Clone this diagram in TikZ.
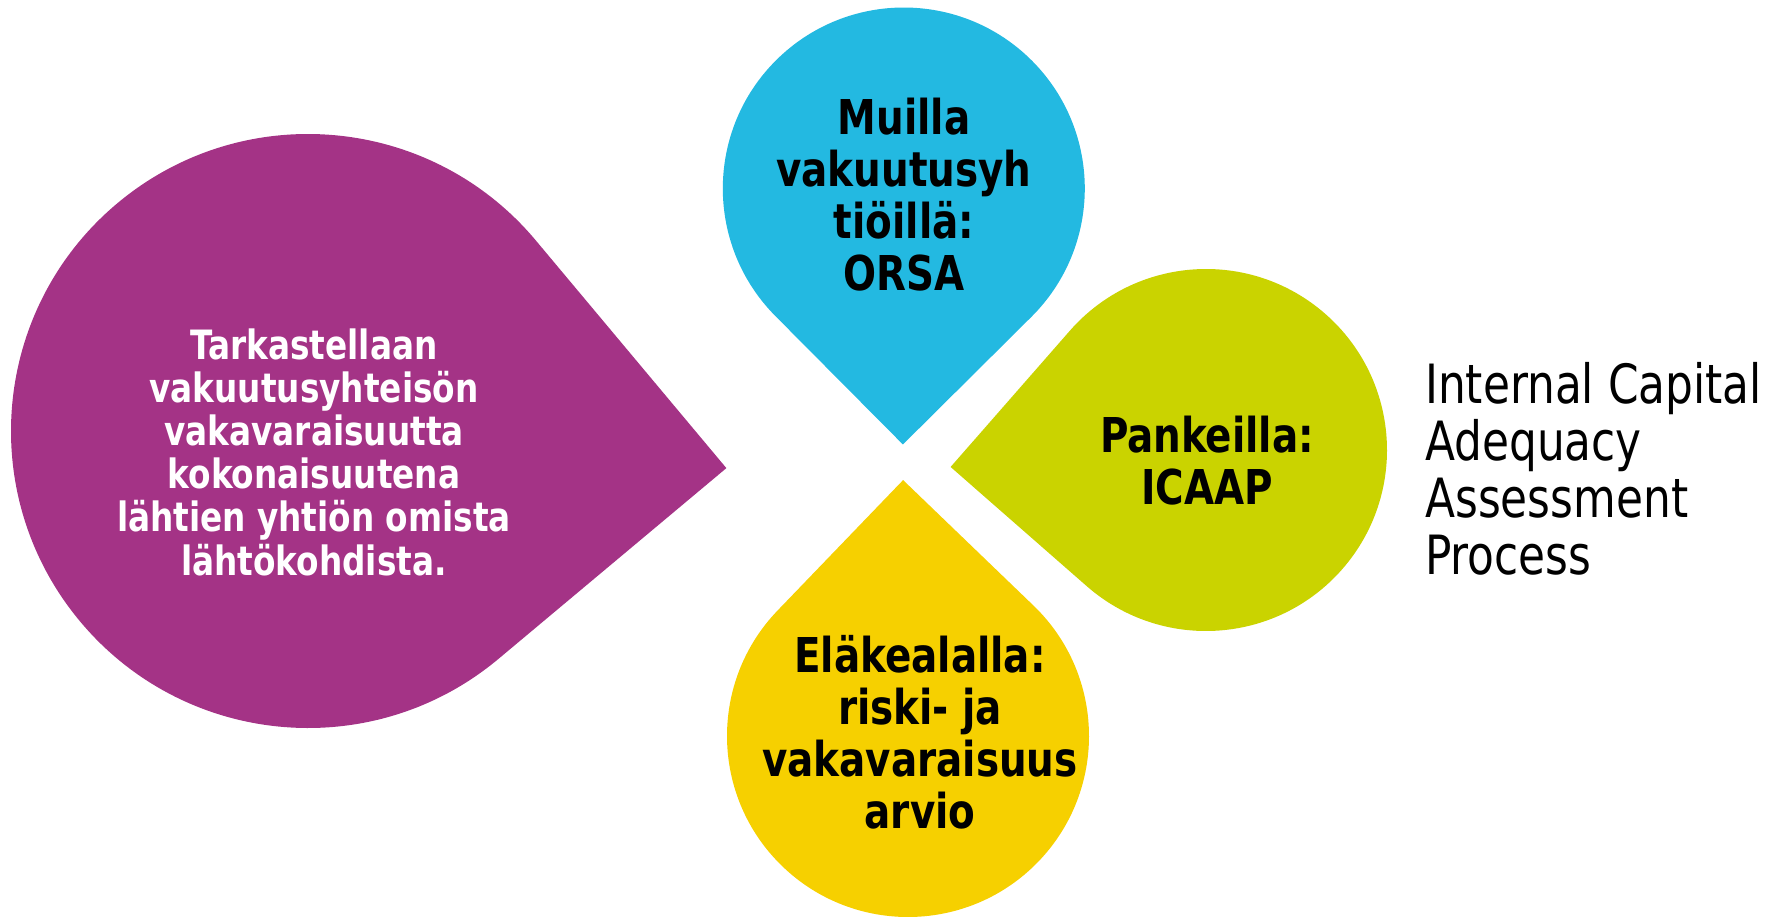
\documentclass[tikz,border=0pt]{standalone}
\usepackage{fontspec}
\setmainfont[FakeStretch=0.9]{DejaVu Sans Condensed}
\usetikzlibrary{calc}
\definecolor{cpurple}{RGB}{164,51,134}
\definecolor{cblue}{RGB}{35,185,225}
\definecolor{cgreen}{RGB}{202,211,0}
\definecolor{cyellow}{RGB}{246,208,0}
\newcommand{\teardrop}[4]{%
  \fill[#4] ($(#1)+(#3:{#2*1.41421})$) -- ($(#1)+(#3+45:#2)$)
    arc[start angle=#3+45, end angle=#3+315, radius=#2] -- cycle;}
\tikzset{
  droptext/.style={align=center, font=\bfseries\fontsize{36}{39}\selectfont, inner sep=0pt},
  purpletext/.style={align=center, text=white, font=\bfseries\fontsize{30.3}{32.4}\selectfont, inner sep=0pt},
  sidetext/.style={align=left, anchor=west, font=\fontsize{40.6}{42.6}\selectfont, inner sep=0pt}
}
\begin{document}
\begin{tikzpicture}[x=0.75pt,y=-0.75pt]
\useasboundingbox (0,0) rectangle (1781,917);
\coordinate (cP) at (308,431);
\coordinate (cB) at (903.8,188.5);
\coordinate (cG) at (1206,450);
\coordinate (cY) at (908,736);
\teardrop{cP}{297}{5.07}{cpurple}
\teardrop{cB}{181}{90.2}{cblue}
\teardrop{cG}{181}{176.2}{cgreen}
\teardrop{cY}{181}{268.9}{cyellow}
\node[purpletext] (tP) at (314,452) {Tarkastellaan\\vakuutusyhteisön\\vakavaraisuutta\\kokonaisuutena\\lähtien yhtiön omista\\lähtökohdista.};
\node[droptext] (tB) at (904,195) {Muilla\\vakuutusyh\\tiöillä:\\ORSA};
\node[droptext] (tG) at (1207,461) {Pankeilla:\\ICAAP};
\node[droptext] (tY) at (920,732) {Eläkealalla:\\riski- ja\\vakavaraisuus\\arvio};
\node[sidetext] (tS) at (1425,469) {Internal Capital\\Adequacy\\Assessment\\Process};
\end{tikzpicture}
\end{document}
